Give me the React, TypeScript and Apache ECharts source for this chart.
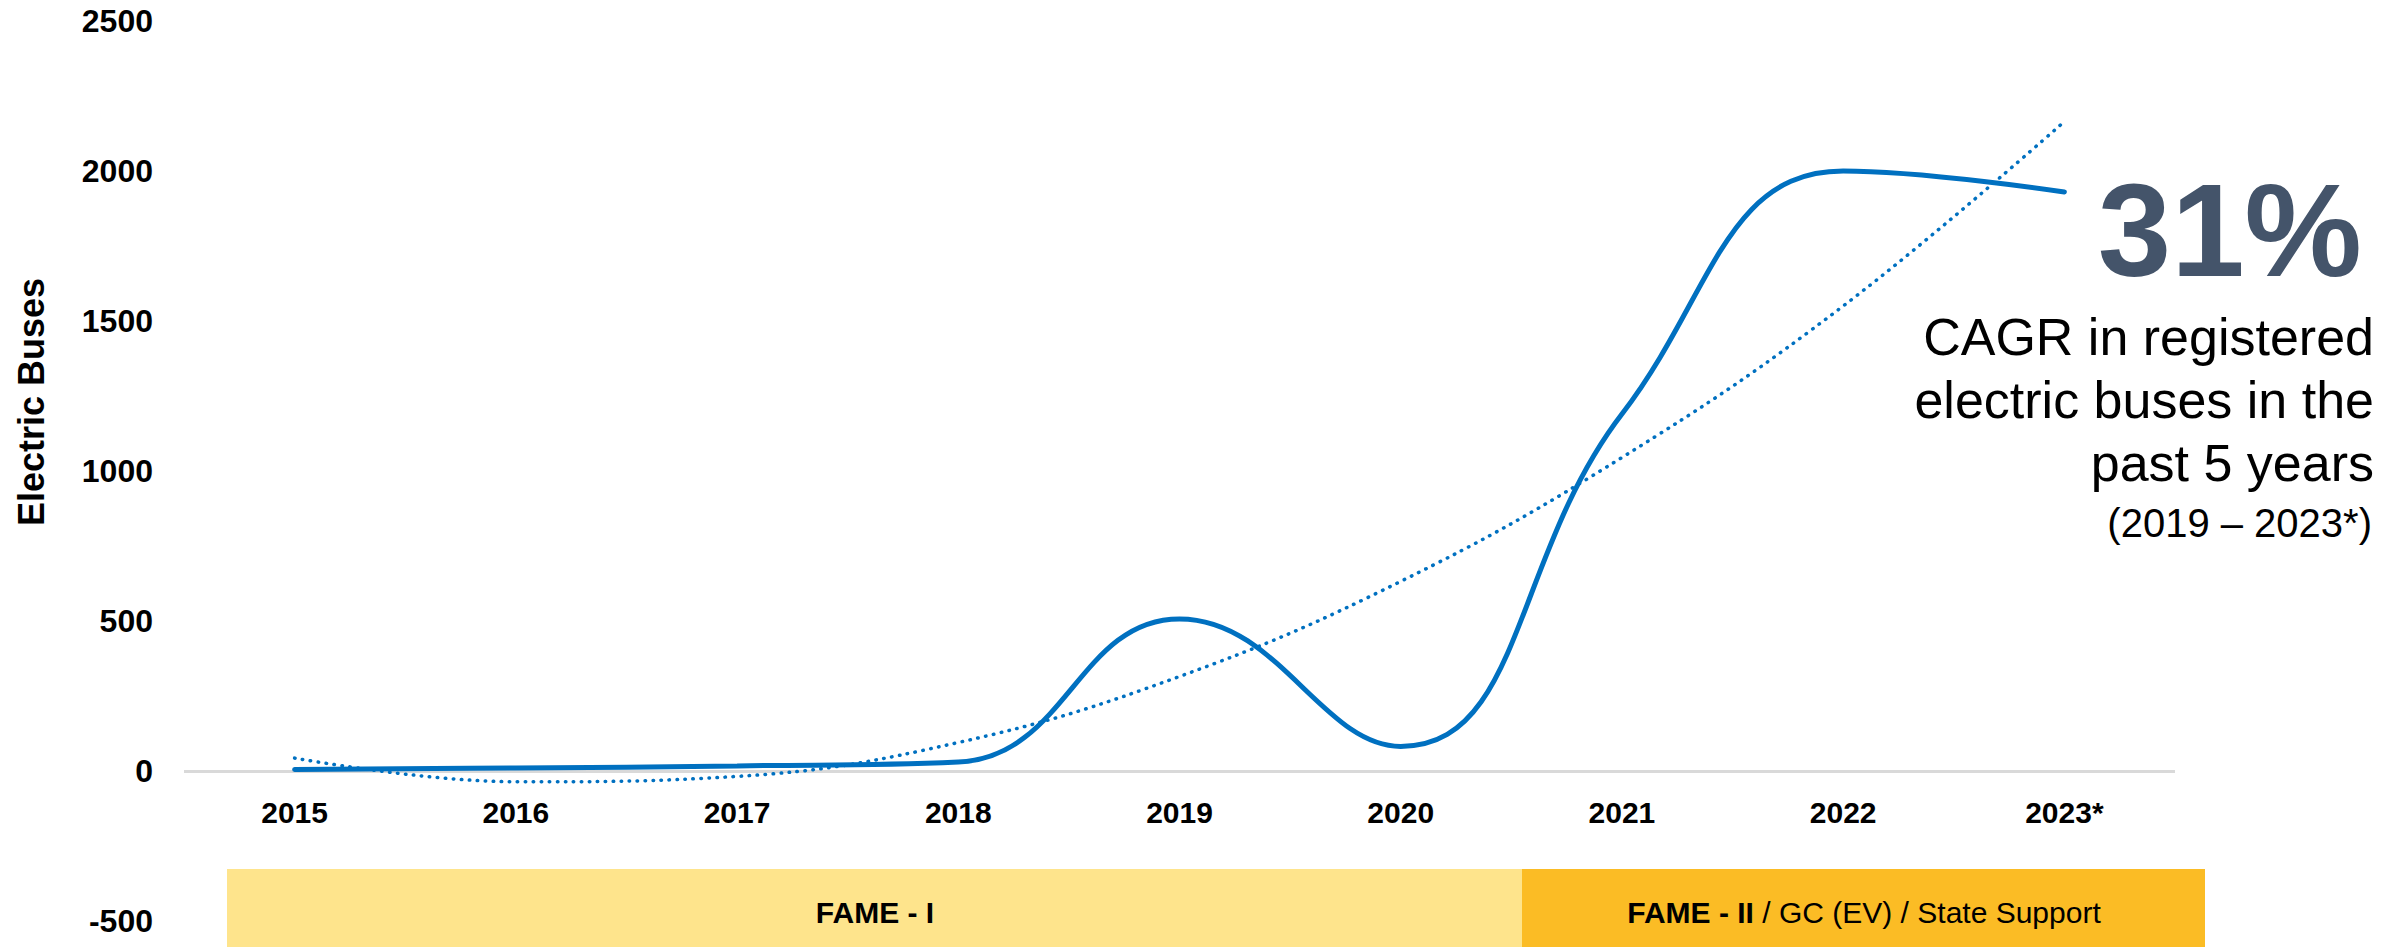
import React, { useEffect, useRef } from "react";
import * as echarts from "echarts";

const years = ["2015", "2016", "2017", "2018", "2019", "2020", "2021", "2022", "2023*"];
const electricBuses = [5, 10, 17, 30, 507, 82, 1190, 2000, 1930];
const trendValues = [43, -36, -18, 95, 315, 632, 1045, 1550, 2165];
const yTicks = { min: -500, max: 2500, interval: 500 };
const calloutLines = ["CAGR in registered", "electric buses in the", "past 5 years"];
const calloutPeriod = "(2019 – 2023*)";
const calloutValue = "31%";
const phaseLabels = ["FAME - I", "FAME - II", " / GC (EV) / State Support"];

const FONT = "'Liberation Sans', Arial, Helvetica, sans-serif";
const BLUE = "#0070C0";

export default function App() {
  const ref = useRef<HTMLDivElement>(null);

  useEffect(() => {
    if (!ref.current) return;
    const chart = echarts.init(ref.current, undefined, { renderer: "svg" });
    chart.setOption({
      animation: false,
      backgroundColor: "#ffffff",
      grid: {
        left: 184,
        right: 230,
        top: 21,
        bottom: 26,
        containLabel: false,
        outerBoundsMode: "none",
      },
      xAxis: {
        type: "category",
        data: years,
        boundaryGap: true,
        axisLine: { show: false },
        axisTick: { show: false },
        axisLabel: {
          margin: -124,
          fontFamily: FONT,
          fontWeight: "bold",
          fontSize: 30,
          color: "#000000",
        },
        splitLine: { show: false },
      },
      yAxis: {
        type: "value",
        min: yTicks.min,
        max: yTicks.max,
        interval: yTicks.interval,
        axisLine: { show: false },
        axisTick: { show: false },
        splitLine: { show: false },
        axisLabel: {
          margin: 31,
          fontFamily: FONT,
          fontWeight: "bold",
          fontSize: 32,
          color: "#000000",
          formatter: (v: number) => String(v),
        },
      },
      series: [
        {
          name: "Electric Buses",
          type: "line",
          data: electricBuses,
          smooth: 0.45,
          symbol: "none",
          lineStyle: { color: BLUE, width: 5, cap: "round" },
          z: 3,
          markLine: {
            silent: true,
            symbol: "none",
            label: { show: false },
            lineStyle: { color: "#d9d9d9", width: 3, type: "solid" },
            data: [{ yAxis: 0 }],
            z: 1,
          },
        },
        {
          name: "Trend",
          type: "line",
          data: trendValues,
          smooth: 0.4,
          symbol: "none",
          lineStyle: { color: BLUE, width: 3.5, type: [0.5, 7.5], cap: "round" },
          z: 2,
        },
      ],
      graphic: [
        {
          type: "text",
          x: 31,
          y: 402,
          rotation: Math.PI / 2,
          style: {
            text: "Electric Buses",
            fontFamily: FONT,
            fontWeight: "bold",
            fontSize: 36,
            fill: "#000000",
            align: "center",
            verticalAlign: "middle",
          },
        },
        {
          type: "rect",
          shape: { x: 227, y: 869, width: 1295, height: 90 },
          style: { fill: "#FEE48C" },
          z: 1,
        },
        {
          type: "rect",
          shape: { x: 1522, y: 869, width: 683, height: 90 },
          style: { fill: "#FBBC25" },
          z: 1,
        },
        {
          type: "text",
          x: 875,
          y: 912,
          z: 2,
          style: {
            text: phaseLabels[0],
            fontFamily: FONT,
            fontWeight: "bold",
            fontSize: 30,
            fill: "#000000",
            align: "center",
            verticalAlign: "middle",
          },
        },
        {
          type: "text",
          x: 1864,
          y: 912,
          z: 2,
          style: {
            text: "{b|" + phaseLabels[1] + "}{r|" + phaseLabels[2] + "}",
            align: "center",
            verticalAlign: "middle",
            rich: {
              b: { fontFamily: FONT, fontWeight: "bold", fontSize: 30, fill: "#000000" },
              r: { fontFamily: FONT, fontWeight: "normal", fontSize: 30, fill: "#000000" },
            },
          },
        },
        {
          type: "text",
          x: 2362,
          y: 230,
          style: {
            text: calloutValue,
            fontFamily: FONT,
            fontWeight: "bold",
            fontSize: 132,
            fill: "#44546A",
            align: "right",
            verticalAlign: "middle",
          },
        },
        ...calloutLines.map((t, i) => ({
          type: "text",
          x: 2374,
          y: [337, 400, 463][i],
          style: {
            text: t,
            fontFamily: FONT,
            fontSize: 52,
            fill: "#000000",
            align: "right",
            verticalAlign: "middle",
          },
        })),
        {
          type: "text",
          x: 2372,
          y: 523,
          style: {
            text: calloutPeriod,
            fontFamily: FONT,
            fontSize: 40,
            fill: "#000000",
            align: "right",
            verticalAlign: "middle",
          },
        },
      ],
    });
    return () => chart.dispose();
  }, []);

  return (
    <div
      ref={ref}
      style={{ position: "fixed", left: 0, top: 0, width: 2405, height: 947 }}
    />
  );
}
